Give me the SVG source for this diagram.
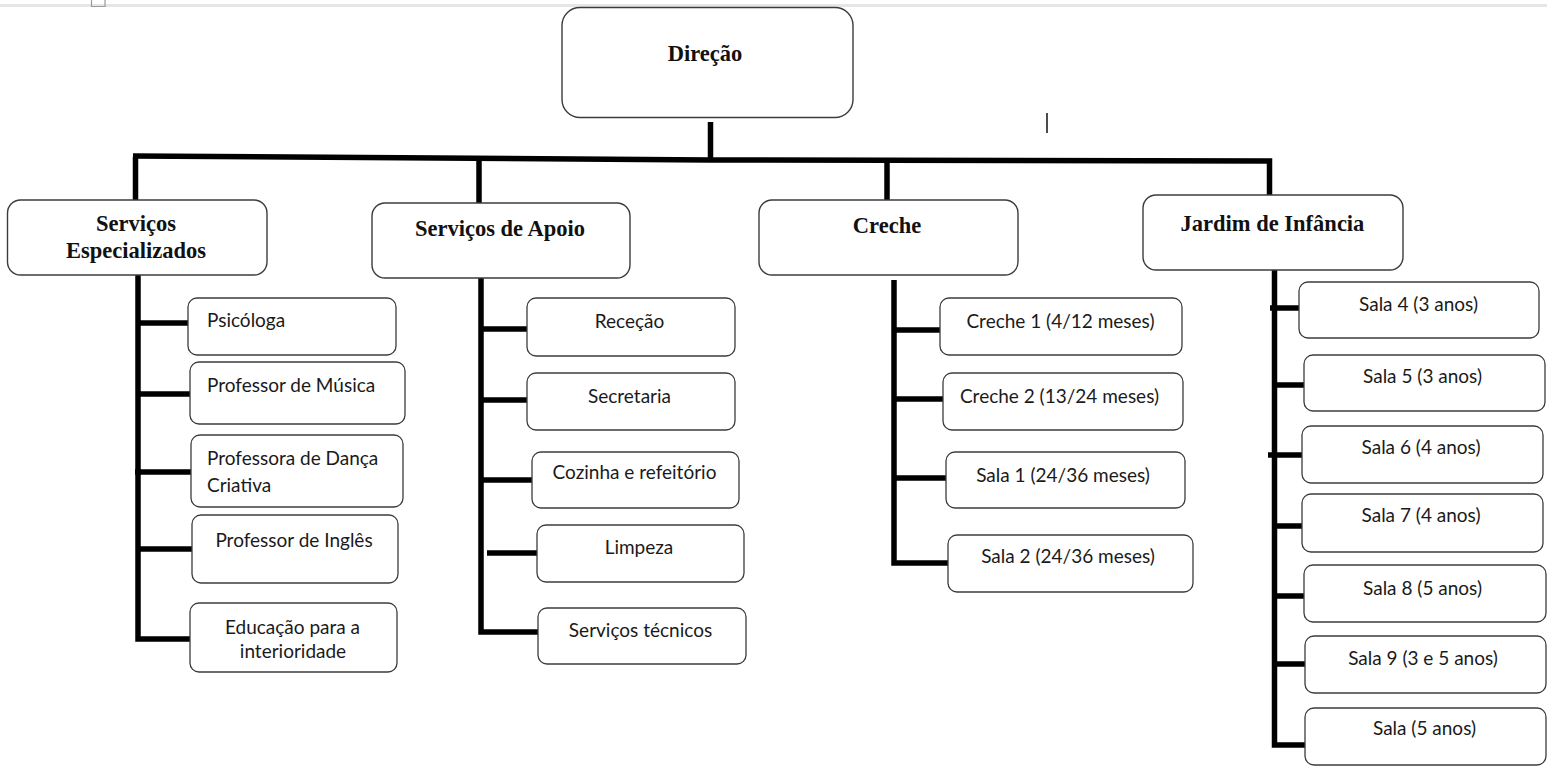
<svg xmlns="http://www.w3.org/2000/svg" width="1547" height="767" viewBox="0 0 1547 767">
<style>
.hb{fill:#fff;stroke:#3c3c3c;stroke-width:1.4}
.cb{fill:#fff;stroke:#3c3c3c;stroke-width:1.3}
.ht{font-family:"Liberation Serif","Times New Roman",serif;font-weight:bold;font-size:22.5px;fill:#111;text-anchor:middle}
.ct{font-family:Lato,"Liberation Sans",sans-serif;font-size:19px;fill:#1a1a1a;text-anchor:middle}
.cs{text-anchor:start}
.ln{fill:none;stroke:#000;stroke-width:5.5;stroke-linejoin:miter;stroke-linecap:butt}
</style>
<rect width="1547" height="767" fill="#fff"/>
<rect x="0" y="4" width="1547" height="3" fill="#e6e6e6"/>
<path d="M91.5,0 V6.5 H105 V0" fill="none" stroke="#9a9a9a" stroke-width="1.2"/>
<line x1="1047" y1="113" x2="1047" y2="133" stroke="#111" stroke-width="1.5"/>

<g id="connectors">
<path class="ln" d="M133,156 L710,160 L1269.5,161 V195"/>
<path class="ln" d="M710.5,122 V160"/>
<path class="ln" d="M135.5,157 V200"/>
<path class="ln" d="M479,158 V203"/>
<path class="ln" d="M887,161 V203"/>
<path class="ln" d="M138,275 V639 H190"/>
<path class="ln" d="M138,323 H188 M138,394 H190 M135,472 H191 M138,549 H192"/>
<path class="ln" d="M481,278 V632 H538"/>
<path class="ln" d="M481,329 H527 M481,400 H527 M481,480 H532 M487,553 H537"/>
<path class="ln" d="M894,280 V563 H948"/>
<path class="ln" d="M894,330 H940 M894,399 H943 M894,478 H946"/>
<path class="ln" d="M1274.5,270 V745 H1305"/>
<path class="ln" d="M1270,308 H1299 M1274,385 H1304 M1268,455 H1302 M1274,526 H1302 M1274,596 H1304 M1274,664 H1305"/>
</g>

<g id="direcao"><rect class="hb" x="562" y="7.5" width="291" height="110" rx="18"/><text class="ht" x="705" y="61" font-size="23">Direção</text></g>

<g id="servicos-especializados"><rect class="hb" x="7.5" y="200" width="259.5" height="75" rx="13"/><text class="ht" x="136" y="231">Serviços</text><text class="ht" x="136" y="258">Especializados</text></g>
<g id="servicos-apoio"><rect class="hb" x="372" y="203" width="258" height="75" rx="13"/><text class="ht" x="500" y="236">Serviços de Apoio</text></g>
<g id="creche"><rect class="hb" x="759" y="200" width="259" height="75" rx="13"/><text class="ht" x="887" y="233">Creche</text></g>
<g id="jardim"><rect class="hb" x="1143" y="195" width="260" height="75" rx="13"/><text class="ht" x="1272.5" y="231">Jardim de Infância</text></g>

<g id="psicologa"><rect class="cb" x="188" y="298" width="208" height="57" rx="9"/><text class="ct cs" x="207" y="327">Psicóloga</text></g>
<g id="musica"><rect class="cb" x="190" y="362" width="215" height="62" rx="9"/><text class="ct cs" x="207" y="392">Professor de Música</text></g>
<g id="danca"><rect class="cb" x="191" y="435" width="212" height="72" rx="9"/><text class="ct cs" x="207" y="465">Professora de Dança</text><text class="ct cs" x="207" y="492">Criativa</text></g>
<g id="ingles"><rect class="cb" x="192" y="515" width="206" height="68" rx="9"/><text class="ct" x="294" y="547">Professor de Inglês</text></g>
<g id="interioridade"><rect class="cb" x="190" y="603" width="207" height="69" rx="9"/><text class="ct" x="292.5" y="634">Educação para a</text><text class="ct" x="293" y="658">interioridade</text></g>

<g id="rececao"><rect class="cb" x="527" y="298" width="208" height="58" rx="9"/><text class="ct" x="629.5" y="328">Receção</text></g>
<g id="secretaria"><rect class="cb" x="527" y="373" width="208" height="57" rx="9"/><text class="ct" x="629.5" y="403">Secretaria</text></g>
<g id="cozinha"><rect class="cb" x="532" y="452" width="207" height="56" rx="9"/><text class="ct" x="634.5" y="479">Cozinha e refeitório</text></g>
<g id="limpeza"><rect class="cb" x="537" y="525" width="207" height="57" rx="9"/><text class="ct" x="639" y="554">Limpeza</text></g>
<g id="tecnicos"><rect class="cb" x="538" y="608" width="208" height="56" rx="9"/><text class="ct" x="640.5" y="637">Serviços técnicos</text></g>

<g id="creche1"><rect class="cb" x="940" y="298" width="242" height="57" rx="9"/><text class="ct" x="1060.5" y="328">Creche 1 (4/12 meses)</text></g>
<g id="creche2"><rect class="cb" x="943" y="373" width="240" height="57" rx="9"/><text class="ct" x="1059.5" y="403">Creche 2 (13/24 meses)</text></g>
<g id="sala1"><rect class="cb" x="946" y="452" width="239" height="56" rx="9"/><text class="ct" x="1063" y="482">Sala 1 (24/36 meses)</text></g>
<g id="sala2"><rect class="cb" x="948" y="535" width="245" height="57" rx="9"/><text class="ct" x="1068" y="563">Sala 2 (24/36 meses)</text></g>

<g id="sala4"><rect class="cb" x="1299" y="282" width="240" height="56" rx="9"/><text class="ct" x="1418.5" y="311">Sala 4 (3 anos)</text></g>
<g id="sala5"><rect class="cb" x="1304" y="355" width="241" height="56" rx="9"/><text class="ct" x="1422.5" y="383">Sala 5 (3 anos)</text></g>
<g id="sala6"><rect class="cb" x="1302" y="426" width="241" height="57" rx="9"/><text class="ct" x="1421" y="454">Sala 6 (4 anos)</text></g>
<g id="sala7"><rect class="cb" x="1302" y="494" width="241" height="58" rx="9"/><text class="ct" x="1421" y="522">Sala 7 (4 anos)</text></g>
<g id="sala8"><rect class="cb" x="1304" y="565" width="242" height="57" rx="9"/><text class="ct" x="1422.5" y="595">Sala 8 (5 anos)</text></g>
<g id="sala9"><rect class="cb" x="1305" y="636" width="241" height="57" rx="9"/><text class="ct" x="1423" y="665">Sala 9 (3 e 5 anos)</text></g>
<g id="sala5b"><rect class="cb" x="1305" y="708" width="241" height="57" rx="9"/><text class="ct" x="1424.5" y="735">Sala (5 anos)</text></g>
</svg>
